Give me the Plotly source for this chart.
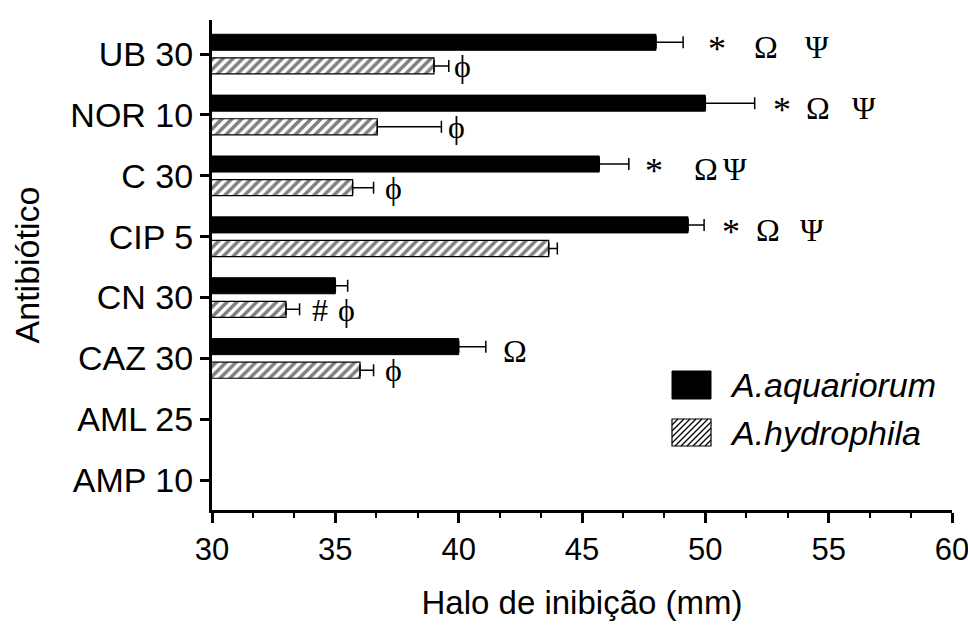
import plotly.graph_objects as go

categories = ["UB 30", "NOR 10", "C 30", "CIP 5", "CN 30", "CAZ 30", "AML 25", "AMP 10"]
aquariorum = [48.0, 50.0, 45.7, 49.3, 35.0, 40.0, None, None]
aquariorum_err = [1.1, 2.0, 1.2, 0.65, 0.5, 1.1, 0, 0]
hydrophila = [39.0, 36.7, 35.7, 43.65, 33.0, 36.0, None, None]
hydrophila_err = [0.6, 2.6, 0.85, 0.35, 0.55, 0.55, 0, 0]
series_names = ["A.aquariorum", "A.hydrophila"]

# significance symbols: category, row (0 = A.aquariorum, 1 = A.hydrophila), text, x (mm)
sig_cat = ["UB 30", "UB 30", "UB 30", "UB 30",
           "NOR 10", "NOR 10", "NOR 10", "NOR 10",
           "C 30", "C 30", "C 30", "C 30",
           "CIP 5", "CIP 5", "CIP 5",
           "CN 30", "CN 30",
           "CAZ 30", "CAZ 30"]
sig_row = [0, 0, 0, 1,
           0, 0, 0, 1,
           0, 0, 0, 1,
           0, 0, 0,
           1, 1,
           0, 1]
sig_text = ["*", "Ω", "Ψ", "ϕ",
            "*", "Ω", "Ψ", "ϕ",
            "*", "Ω", "Ψ", "ϕ",
            "*", "Ω", "Ψ",
            "#", "ϕ",
            "Ω", "ϕ"]
sig_x = [50.47, 52.46, 54.53, 40.14,
         53.11, 54.57, 56.43, 39.93,
         47.92, 50.03, 51.20, 37.34,
         51.04, 52.54, 54.32,
         34.38, 35.47,
         42.28, 37.34]

W, H = 968, 630
ML, MR, MT, MB = 212, 16, 20, 120
PW, PH = W - ML - MR, H - MT - MB


def px2paper(x, y):
    return (x - ML) / PW, (H - MB - y) / PH


fig = go.Figure()
fig.add_trace(go.Bar(
    y=categories, x=aquariorum, orientation="h", name=series_names[0],
    marker=dict(color="black", line=dict(color="black", width=1)),
    error_x=dict(type="data", array=aquariorum_err, arrayminus=[0] * len(categories),
                 symmetric=False, color="black", thickness=1.5, width=6),
))
fig.add_trace(go.Bar(
    y=categories, x=hydrophila, orientation="h", name=series_names[1],
    marker=dict(color="white", line=dict(color="black", width=1.2),
                pattern=dict(shape="/", fgcolor="black", bgcolor="white", size=7, solidity=0.5)),
    error_x=dict(type="data", array=hydrophila_err, arrayminus=[0] * len(categories),
                 symmetric=False, color="black", thickness=1.5, width=6),
))

for c, r, t, x in zip(sig_cat, sig_row, sig_text, sig_x):
    if r == 0:
        shift = 5 if t == "*" else 7
    else:
        shift = -12
    fig.add_annotation(x=x, y=c, text=t, showarrow=False, xref="x", yref="y",
                       yshift=shift,
                       font=dict(family="Liberation Serif, Times New Roman, serif",
                                 size=36 if t == "*" else 32, color="black"))

# legend keys (large boxes as in the original)
bx0, bx1 = 672, 711
key_rows = [(371, 399), (419, 446)]
(y0a, y1a), (y0b, y1b) = key_rows
p0 = px2paper(bx0, y0a); p1 = px2paper(bx1, y1a)
fig.add_shape(type="rect", xref="paper", yref="paper", x0=p0[0], y0=p1[1], x1=p1[0], y1=p0[1],
              fillcolor="black", line=dict(color="black", width=1))
p0 = px2paper(bx0, y0b); p1 = px2paper(bx1, y1b)
fig.add_shape(type="rect", xref="paper", yref="paper", x0=p0[0], y0=p1[1], x1=p1[0], y1=p0[1],
              fillcolor="white", line=dict(color="black", width=1.2))
# diagonal hatch inside the second key
hgt = y1b - y0b
segs = []
k = bx0 - hgt
while k < bx1:
    xa, ya = k, y1b
    xb, yb = k + hgt, y0b
    if xa < bx0:
        ya = y1b - (bx0 - xa); xa = bx0
    if xb > bx1:
        yb = y0b + (xb - bx1); xb = bx1
    if xb > xa:
        a = px2paper(xa, ya); b = px2paper(xb, yb)
        segs.append(f"M{a[0]:.5f},{a[1]:.5f} L{b[0]:.5f},{b[1]:.5f}")
    k += 6
fig.add_shape(type="path", xref="paper", yref="paper", path=" ".join(segs),
              line=dict(color="black", width=1.3))
for (ya, yb), name in zip(key_rows, series_names):
    tx, ty = px2paper(728, (ya + yb) / 2)
    fig.add_annotation(x=tx, y=ty, xref="paper", yref="paper", text=name, showarrow=False,
                       xanchor="left", yanchor="middle",
                       font=dict(size=34, style="italic", color="black"))

fig.update_layout(
    width=W, height=H,
    margin=dict(l=ML, r=MR, t=MT, b=MB),
    paper_bgcolor="white", plot_bgcolor="white",
    barmode="group", bargap=0.224, bargroupgap=0.32,
    font=dict(family="Liberation Sans, Arial, sans-serif", size=32, color="black"),
    showlegend=False,
    xaxis=dict(range=[30, 60], dtick=5, tick0=30, showgrid=False, zeroline=False,
               automargin=False, ticklabeloverflow="allow",
               showline=True, linecolor="black", linewidth=3,
               ticks="outside", ticklen=10, tickwidth=3, tickcolor="black",
               minor=dict(dtick=5 / 3, ticks="outside", ticklen=5, tickwidth=2, tickcolor="black"),
               tickfont=dict(size=31),
               title=dict(text="Halo de inibição (mm)", font=dict(size=33), standoff=25)),
    yaxis=dict(range=[7.49, -0.56], showgrid=False, zeroline=False,
               automargin=False, ticklabeloverflow="allow",
               showline=True, linecolor="black", linewidth=3,
               ticks="outside", ticklen=9, tickwidth=3, tickcolor="black",
               tickfont=dict(size=34),
               title=dict(text="Antibiótico", font=dict(size=34), standoff=21)),
)

fig.write_html("out.html", config={"displayModeBar": False},
               post_script="document.body.style.margin='0';document.body.style.overflow='hidden';")
